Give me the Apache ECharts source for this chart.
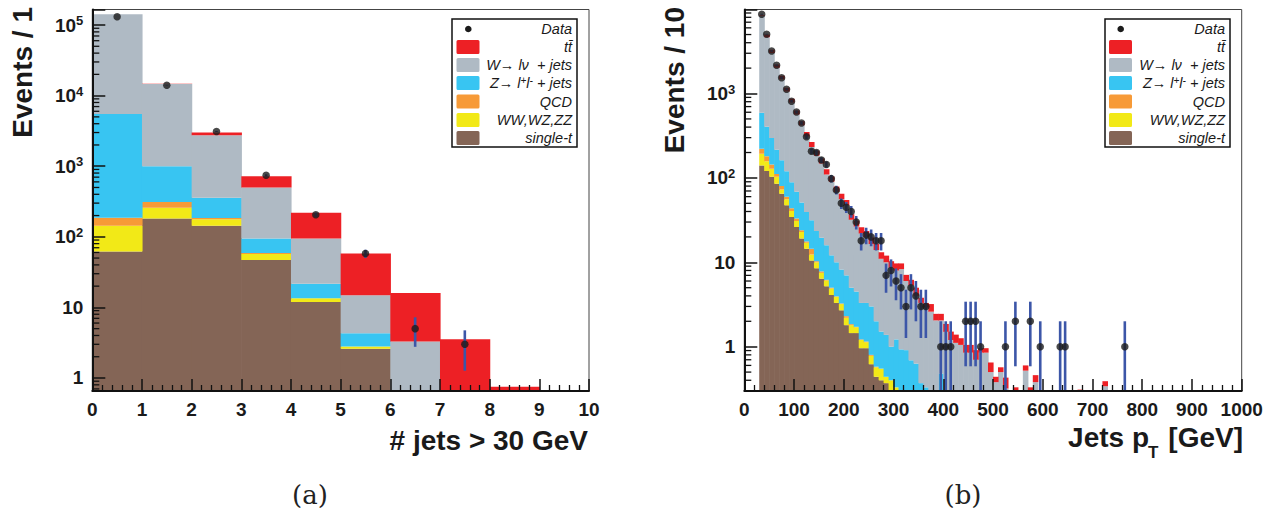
<!DOCTYPE html>
<html><head><meta charset="utf-8">
<script src="https://cdn.jsdelivr.net/npm/echarts@6/dist/echarts.min.js"></script>
<style>html,body{margin:0;padding:0;background:#fff}#c{width:1275px;height:516px}</style>
</head><body><div id="c"></div><script>
// ---------- (a) number of jets, bins of width 1 ----------
const jetLow = [0,1,2,3,4,5,6,7,8,9];
const jetSingleT = [62,182,143,47,11.9,2.6,0,0,0,0];
const jetDiboson = [81,76,35,10,1.6,0.2,0,0,0,0];
const jetQCD     = [43,52,6,2,0,0,0,0,0,0];
const jetZ       = [5314,690,173,36,8.2,1.5,0,0,0,0];
const jetW       = [136500,13650,2393,405,73.3,10.5,3.3,0,0,0];
const jetTT      = [300,80,250,220,124,43,12.7,3.55,0.75,0];
const jetData    = [131000,14000,3100,745,205,58,5,3,0,0];

// ---------- (b) jet pT, bins of width 10 GeV ----------
const ptLow = [30,40,50,60,70,80,90,100,110,120,130,140,150,160,170,180,190,200,210,220,
  230,240,250,260,270,280,290,300,310,320,330,340,350,360,370,380,390,400,410,420,
  430,440,450,460,470,480,490,500,510,520,530,540,550,560,570,580,590,600,610,620,
  630,640,650,660,670,680,690,700,710,720,730,740,750,760,770];
const ptSingleT = [140,121,103,85,65,47.5,34.5,26.2,19.2,14.5,10.5,8.5,6.4,5.2,4.1,3.3,2.7,1.8,1.45,1.45,
  0.96,0.96,0.62,0.44,0.40,0.37,0.28,0.22,0.20,0.15,0.12,0.10,0.08,0.06,0.05,0.04,0.03,0.02,0.02,0.01];
const ptDiboson = [53,37,25,18,8,8.5,6.1,4.7,3.6,2.6,1.9,1.5,1.1,0.9,0.8,0.6,0.5,0.4,0.35,0.25,
  0.24,0.17,0.16,0.13,0.15,0.07,0.12,0.11,0.08,0.1,0.08,0.05,0.04,0.03,0.02,0.01,0.01,0.01,0.01];
const ptQCD = [28,23,16,8,7,4,3.2,2.1,1.2,0.5,2.1,0.3,0.3,0.1,0.1,0.05,0.05,0.1,0.05,0.02,0.02,0.02,0.02,0.01];
const ptZ = [372,223,153,104,82,60,45.2,35.5,27,21.9,17,13.2,11.8,9.7,7.1,6.05,4.95,4.7,3.15,2.78,
  2.08,2.15,2.2,1.42,0.96,0.94,0.6,0.89,0.65,0.66,0.49,0.48,0.25,0.24,0.23,0.15,0.44,0.12,0.1,0.1,
  0.08,0.07,0.06,0.05,0.05,0.04,0.03,0.02,0.02];
const ptW = [7707,4246,2733,1805,1318,940,696,496.5,369,270.5,200.5,159.5,128.4,94.1,77.9,58,47.8,40,27,22,
  18.7,16.7,13.5,12,9.49,8.62,7.6,6.78,7.37,5.09,4.61,3.37,2.93,2.57,2.3,1.85,1.57,1.35,1.07,1.0,
  0.97,0.78,0.79,0.65,0.8,0.81,0.47,0.36,0.48,0.32,0,0,0,0.52,0,0.38,0,0,0,0,
  0,0,0,0,0,0,0,0,0,0.34];
const ptTT = [150,350,270,180,140,110,85,65,50,40,34,27,22,17,14,11,9,7.6,5,4.5,
  4,3.5,3.2,2.6,2.2,2.0,1.7,1.7,1.4,1.1,0.9,1.0,0.5,0.4,0.6,0.4,0.4,0.36,0.31,0.28,
  0.21,0.2,0.2,0.21,0.11,0.11,0.15,0.06,0.07,0.11,0,0.33,0,0.08,0.33,0.08,0,0,0,0,
  0,0,0,0,0.31,0,0,0,0,0.05];
const ptData = [8700,5050,3190,2160,1540,1125,809,605,448,307,207,200,163,144,98,72,50,45,40,30,
  18,21,20,18,18,7,8,6,5,3,5,4,3,3,0,0,1,1,1,0,
  0,2,2,2,1,0,0,0,0,1,0,2,0,0,2,0,1,0,0,0,
  1,1,0,0,0,0,0,0,0,0,0,0,0,1,0];

const legendLabels = ['{n|Data}','{n|tt\u0304}','{n|W\u2192 l\u03bd  + jets}','{n|Z\u2192 l}{s|+}{n|l}{s|-}{n| + jets}','{n|QCD}','{n|WW,WZ,ZZ}','{n|single-t}'];
const compColors = ['#846556','#f2e917','#f79a37','#38c5f2','#afbac4','#ed2025']; // single-t, WW, QCD, Z, W, tt
const errColor = '#3c56a8';

const Y0 = {min:0.654, max:1.66e5};
const Y1 = {min:0.2985, max:9900};

function stackRows(low, width, comps){
  const out = comps.map(()=>[]);
  low.forEach((e,i)=>{
    let base = 0;
    comps.forEach((c,k)=>{ const v = c[i]||0; if(v>0){ out[k].push([e, e+width, base, base+v]); } base += v; });
  });
  return out;
}
function histSeries(rows, color, idx, yMin){
  return {type:'custom', xAxisIndex:idx, yAxisIndex:idx, data:rows, encode:{x:[0,1], y:[3]}, clip:true, z:2, silent:true,
    renderItem(params, api){
      const lo = Math.max(api.value(2), yMin), hi = api.value(3);
      if(!(hi>lo)) return null;
      const a = api.coord([api.value(0), hi]), b = api.coord([api.value(1), lo]);
      return {type:'rect', shape:{x:a[0], y:a[1], width:b[0]-a[0]+0.6, height:b[1]-a[1]}, style:{fill:color}};
    }};
}
function dataSeries(low, width, vals, idx, yMin){
  const pts = [], errs = [];
  low.forEach((e,i)=>{ const n = vals[i]||0; if(n>0){ const c = e+width/2, s = Math.sqrt(n); pts.push([c,n]); errs.push([c, n-s, n+s]); } });
  return [
    {type:'custom', xAxisIndex:idx, yAxisIndex:idx, data:errs, encode:{x:[0], y:[2]}, clip:true, z:4, silent:true,
      renderItem(params, api){
        const lo = Math.max(api.value(1), yMin);
        const a = api.coord([api.value(0), api.value(2)]), b = api.coord([api.value(0), lo]);
        return {type:'line', shape:{x1:a[0], y1:a[1], x2:b[0], y2:b[1]}, style:{stroke:errColor, lineWidth:2.6}};
      }},
    {type:'scatter', xAxisIndex:idx, yAxisIndex:idx, data:pts, symbol:'circle', symbolSize:7.5, z:5, silent:true,
      itemStyle:{color:'#1b1b1b'}}
  ];
}
function minorTickSeries(idx, xMin, range){
  const vals = [];
  for(let d=-2; d<=6; d++) for(let m=2; m<=9; m++){ const v = m*Math.pow(10,d); if(v>range.min && v<range.max) vals.push([xMin, v]); }
  return {type:'custom', xAxisIndex:idx, yAxisIndex:idx, data:vals, encode:{x:[0], y:[1]}, clip:false, z:20, silent:true,
    renderItem(params, api){
      const p = api.coord([api.value(0), api.value(1)]);
      return {type:'line', shape:{x1:p[0], y1:p[1], x2:p[0]+7, y2:p[1]}, style:{stroke:'#111', lineWidth:1.3}};
    }};
}

const series = [];
const comps0 = [jetSingleT, jetDiboson, jetQCD, jetZ, jetW, jetTT];
const comps1 = [ptSingleT, ptDiboson, ptQCD, ptZ, ptW, ptTT];
stackRows(jetLow, 1, comps0).forEach((rows,k)=>series.push(histSeries(rows, compColors[k], 0, Y0.min)));
stackRows(ptLow, 10, comps1).forEach((rows,k)=>series.push(histSeries(rows, compColors[k], 1, Y1.min)));
series.push(...dataSeries(jetLow, 1, jetData, 0, Y0.min));
series.push(...dataSeries(ptLow, 10, ptData, 1, Y1.min));
series.push(minorTickSeries(0, 0, Y0));
series.push(minorTickSeries(1, 0, Y1));

const FONT = 'Liberation Sans';
function xAxisCfg(idx, max, interval){
  return {gridIndex:idx, type:'value', min:0, max:max, interval:interval, z:10,
    axisLine:{show:true, onZero:false, lineStyle:{color:'#111', width:2}},
    axisTick:{show:true, inside:true, length:12, lineStyle:{color:'#111', width:1.5}},
    minorTick:{show:true, splitNumber:5, length:6, lineStyle:{color:'#111', width:1.3}},
    axisLabel:{fontSize:19, fontWeight:'bold', color:'#1a1a1a', margin:9, fontFamily:FONT, formatter:(v)=>String(v)},
    splitLine:{show:false}, minorSplitLine:{show:false}};
}
function yAxisCfg(idx, r){
  return {gridIndex:idx, type:'log', logBase:10, min:r.min, max:r.max, z:10,
    axisLine:{show:true, onZero:false, lineStyle:{color:'#111', width:2}},
    axisTick:{show:true, inside:true, length:13, lineStyle:{color:'#111', width:1.5}},
    axisLabel:{margin:9, color:'#1a1a1a', fontFamily:FONT,
      formatter(v){ const l = Math.log10(v), p = Math.round(l); if(Math.abs(l-p)>1e-6) return '';
        if(p===0) return '{b|1}'; if(p===1) return '{b|10}'; return '{b|10}{s|'+p+'}'; },
      rich:{b:{fontSize:19, fontWeight:'bold', fontFamily:FONT, color:'#1a1a1a', lineHeight:22},
            s:{fontSize:13, fontWeight:'bold', fontFamily:FONT, color:'#1a1a1a', lineHeight:12, verticalAlign:'top'}}},
    splitLine:{show:false}, minorTick:{show:false}};
}

const legendRich = {
  n:{fontSize:14.5, fontStyle:'italic', fontFamily:FONT, fill:'#1a1a1a', lineHeight:16},
  s:{fontSize:10, fontStyle:'italic', fontFamily:FONT, fill:'#1a1a1a', lineHeight:9, verticalAlign:'top'}
};
function legendEls(bx, swX, dotX, textR){
  const els = [{type:'rect', z:100, shape:{x:bx, y:19, width:125, height:128}, style:{fill:'#fff', stroke:'#111', lineWidth:1.5}}];
  const rowsY = [29,47,65,83,101.5,120,138];
  const swatchOrder = [5,4,3,2,1,0];
  legendLabels.forEach((lab,i)=>{
    const y = rowsY[i];
    if(i===0) els.push({type:'circle', z:101, shape:{cx:dotX, cy:y, r:3.3}, style:{fill:'#1b1b1b'}});
    else els.push({type:'rect', z:101, shape:{x:swX, y:y-7, width:23, height:14, r:1.5}, style:{fill:compColors[swatchOrder[i-1]]}});
    els.push({type:'text', z:101, x:textR, y:y, style:{text:lab, rich:legendRich, fontSize:14.5, fontStyle:'italic', fontFamily:FONT, fill:'#1a1a1a',
      align:'right', verticalAlign:'middle', textAlign:'right', textVerticalAlign:'middle'}});
  });
  return els;
}
function txt(x, y, s, size, opts){
  return Object.assign({type:'text', z:100, x:x, y:y, style:Object.assign({text:s, fontSize:size, fontWeight:'bold', fontFamily:FONT, fill:'#1a1a1a',
    align:'right', verticalAlign:'middle', textAlign:'right', textVerticalAlign:'middle'}, opts||{})});
}
const graphics = [
  ...legendEls(452, 456.5, 468.3, 572),
  ...legendEls(1105, 1109, 1120.7, 1225),
  Object.assign(txt(22, 7, 'Events / 1', 28), {rotation:Math.PI/2}),
  Object.assign(txt(674, 7, 'Events / 10', 28), {rotation:Math.PI/2}),
  txt(588, 440, '# jets > 30 GeV', 28),
  txt(1149, 437, 'Jets p', 28),
  txt(1148, 452, 'T', 17, {align:'left', textAlign:'left'}),
  txt(1243, 437, '[GeV]', 28),
  txt(310, 495, '(a)', 26, {align:'center', textAlign:'center', fontWeight:'normal', fontFamily:'DejaVu Serif', fill:'#222'}),
  txt(963, 495, '(b)', 26, {align:'center', textAlign:'center', fontWeight:'normal', fontFamily:'DejaVu Serif', fill:'#222'})
];

const chart = echarts.init(document.getElementById('c'), null, {renderer:'svg'});
chart.setOption({
  animation:false,
  backgroundColor:'#fff',
  grid:[
    {left:92.3, top:9.5, width:496.7, height:381.5, show:true, borderColor:'#444', borderWidth:1, containLabel:false},
    {left:744.3, top:9.5, width:497.4, height:381.5, show:true, borderColor:'#444', borderWidth:1, containLabel:false}
  ],
  xAxis:[xAxisCfg(0, 10, 1), xAxisCfg(1, 1000, 100)],
  yAxis:[yAxisCfg(0, Y0), yAxisCfg(1, Y1)],
  series: series,
  graphic: graphics
});
</script></body></html>
